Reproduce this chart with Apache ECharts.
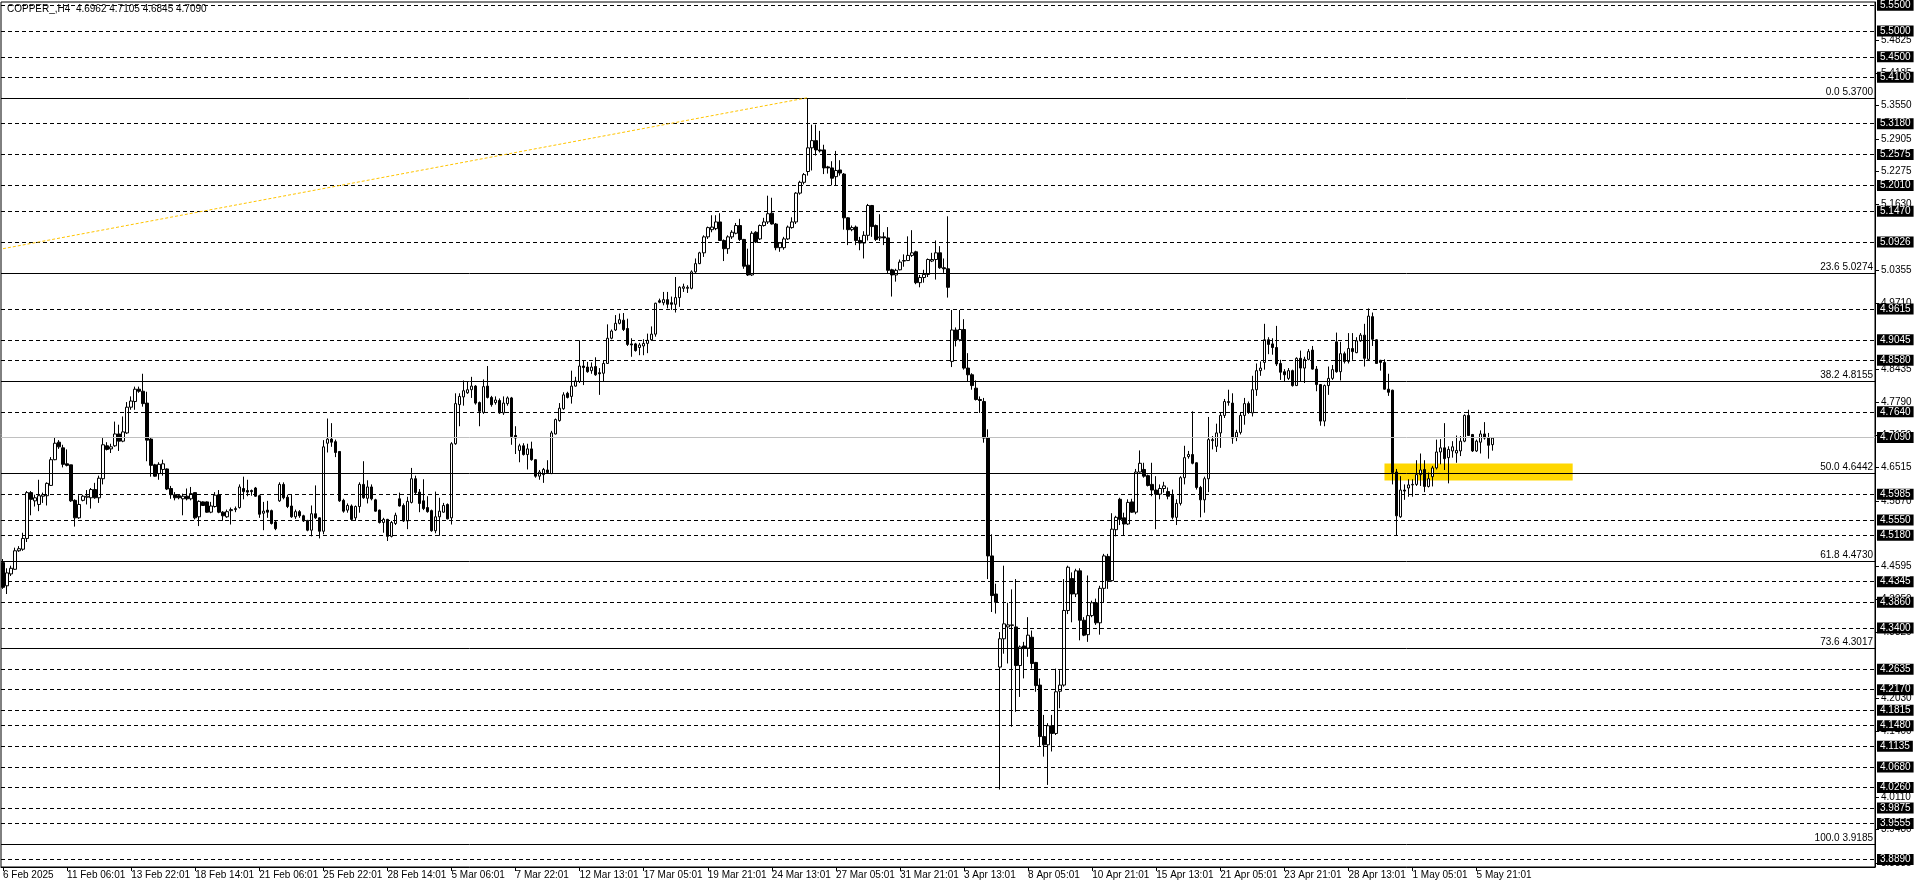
<!DOCTYPE html>
<html>
<head>
<meta charset="utf-8">
<script src="https://cdn.jsdelivr.net/npm/echarts@6/dist/echarts.min.js"></script>
<style>
html,body{margin:0;padding:0;background:#fff;}
#c{width:1916px;height:888px;}
</style>
</head>
<body>
<div id="c"></div>
<script>
// ---------- DATA ----------
const title = "COPPER_,H4  4.6962 4.7105 4.6845 4.7090";
const barsPerLabel = 16;
const totalSlots = 468;
const tickLabels = ["6 Feb 2025","11 Feb 06:01","13 Feb 22:01","18 Feb 14:01","21 Feb 06:01","25 Feb 22:01","28 Feb 14:01","5 Mar 06:01","7 Mar 22:01","12 Mar 13:01","17 Mar 05:01","19 Mar 21:01","24 Mar 13:01","27 Mar 05:01","31 Mar 21:01","3 Apr 13:01","8 Apr 05:01","10 Apr 21:01","15 Apr 13:01","21 Apr 05:01","23 Apr 21:01","28 Apr 13:01","1 May 05:01","5 May 21:01"];
// [open, high, low, close]
const candles = [
[4.467,4.474,4.416,4.419],[4.422,4.456,4.406,4.447],[4.445,4.461,4.441,4.456],[4.454,4.496,4.453,4.490],[4.490,4.499,4.488,4.494],
[4.493,4.525,4.490,4.514],[4.514,4.606,4.507,4.603],[4.603,4.606,4.559,4.590],[4.587,4.599,4.576,4.593],[4.580,4.628,4.567,4.597],
[4.596,4.603,4.583,4.599],[4.597,4.623,4.578,4.621],[4.617,4.672,4.616,4.667],[4.667,4.711,4.666,4.699],[4.701,4.705,4.688,4.692],
[4.690,4.696,4.652,4.658],[4.659,4.687,4.654,4.656],[4.657,4.657,4.585,4.587],[4.588,4.590,4.537,4.554],[4.554,4.598,4.552,4.580],
[4.588,4.599,4.586,4.596],[4.594,4.608,4.580,4.596],[4.593,4.612,4.572,4.609],[4.609,4.622,4.591,4.593],[4.593,4.636,4.583,4.631],
[4.630,4.709,4.619,4.696],[4.694,4.701,4.685,4.687],[4.688,4.698,4.680,4.692],[4.694,4.741,4.692,4.717],[4.717,4.735,4.684,4.703],
[4.703,4.751,4.701,4.721],[4.719,4.779,4.717,4.769],[4.769,4.790,4.764,4.781],[4.780,4.809,4.764,4.804],[4.804,4.809,4.797,4.800],
[4.800,4.834,4.770,4.776],[4.777,4.799,4.664,4.705],[4.707,4.709,4.634,4.656],[4.657,4.659,4.634,4.635],[4.640,4.662,4.628,4.658],
[4.648,4.667,4.636,4.659],[4.649,4.650,4.608,4.610],[4.611,4.616,4.591,4.599],[4.599,4.604,4.588,4.593],[4.597,4.599,4.590,4.593],
[4.591,4.601,4.559,4.596],[4.596,4.611,4.588,4.591],[4.591,4.614,4.588,4.601],[4.603,4.603,4.551,4.554],[4.556,4.588,4.538,4.586],
[4.585,4.586,4.577,4.578],[4.585,4.586,4.564,4.565],[4.565,4.585,4.563,4.577],[4.576,4.604,4.574,4.598],[4.599,4.608,4.563,4.565],
[4.565,4.567,4.548,4.558],[4.556,4.570,4.554,4.566],[4.568,4.574,4.541,4.570],[4.570,4.576,4.565,4.572],[4.574,4.619,4.572,4.614],
[4.611,4.634,4.590,4.605],[4.607,4.628,4.596,4.604],[4.607,4.609,4.597,4.605],[4.612,4.614,4.595,4.596],[4.597,4.599,4.554,4.561],
[4.563,4.585,4.530,4.567],[4.569,4.587,4.554,4.565],[4.568,4.570,4.541,4.543],[4.546,4.548,4.530,4.533],[4.587,4.623,4.585,4.619],
[4.619,4.623,4.590,4.593],[4.594,4.599,4.573,4.576],[4.577,4.599,4.554,4.556],[4.556,4.570,4.552,4.566],[4.566,4.569,4.554,4.558],
[4.558,4.560,4.546,4.548],[4.549,4.550,4.528,4.530],[4.530,4.578,4.518,4.562],[4.562,4.617,4.552,4.554],[4.554,4.555,4.514,4.528],
[4.528,4.705,4.522,4.692],[4.699,4.747,4.681,4.707],[4.707,4.738,4.692,4.701],[4.702,4.706,4.672,4.681],[4.683,4.683,4.585,4.587],
[4.588,4.591,4.564,4.567],[4.569,4.582,4.564,4.578],[4.577,4.580,4.550,4.551],[4.554,4.578,4.548,4.576],[4.576,4.623,4.564,4.619],
[4.619,4.664,4.591,4.593],[4.592,4.627,4.582,4.614],[4.614,4.619,4.588,4.591],[4.589,4.591,4.566,4.567],[4.569,4.570,4.543,4.545],
[4.545,4.554,4.525,4.551],[4.551,4.552,4.509,4.518],[4.518,4.548,4.516,4.545],[4.543,4.564,4.540,4.559],[4.591,4.603,4.576,4.577],
[4.578,4.582,4.546,4.548],[4.548,4.595,4.532,4.586],[4.584,4.651,4.582,4.630],[4.630,4.636,4.600,4.603],[4.604,4.610,4.565,4.582],
[4.587,4.629,4.569,4.572],[4.574,4.596,4.564,4.566],[4.568,4.570,4.527,4.529],[4.529,4.605,4.524,4.556],[4.556,4.593,4.519,4.567],
[4.565,4.583,4.564,4.578],[4.580,4.582,4.551,4.552],[4.554,4.701,4.541,4.698],[4.698,4.796,4.696,4.776],[4.774,4.796,4.732,4.790],
[4.789,4.821,4.772,4.801],[4.797,4.819,4.795,4.803],[4.803,4.828,4.787,4.810],[4.810,4.812,4.774,4.777],[4.778,4.780,4.732,4.761],
[4.759,4.823,4.756,4.809],[4.810,4.849,4.786,4.788],[4.788,4.791,4.770,4.774],[4.778,4.790,4.774,4.783],[4.782,4.786,4.756,4.758],
[4.758,4.790,4.754,4.777],[4.776,4.790,4.772,4.787],[4.787,4.789,4.696,4.712],[4.714,4.732,4.678,4.709],[4.685,4.698,4.662,4.694],
[4.694,4.699,4.675,4.677],[4.677,4.698,4.648,4.688],[4.688,4.702,4.665,4.667],[4.667,4.668,4.632,4.635],[4.635,4.647,4.628,4.643],
[4.638,4.651,4.622,4.648],[4.647,4.666,4.640,4.642],[4.640,4.723,4.639,4.719],[4.717,4.747,4.716,4.745],[4.743,4.777,4.741,4.767],
[4.766,4.798,4.764,4.793],[4.796,4.799,4.786,4.788],[4.790,4.840,4.776,4.810],[4.810,4.828,4.809,4.820],[4.819,4.899,4.816,4.849],
[4.849,4.859,4.812,4.846],[4.847,4.857,4.836,4.838],[4.840,4.856,4.834,4.847],[4.848,4.866,4.830,4.832],[4.836,4.845,4.793,4.834],
[4.835,4.859,4.819,4.854],[4.854,4.930,4.853,4.903],[4.903,4.920,4.901,4.917],[4.919,4.948,4.917,4.932],[4.932,4.951,4.930,4.939],
[4.938,4.952,4.917,4.920],[4.922,4.941,4.888,4.891],[4.892,4.903,4.867,4.890],[4.892,4.894,4.877,4.879],[4.885,4.894,4.870,4.890],
[4.888,4.901,4.870,4.893],[4.893,4.912,4.874,4.899],[4.900,4.926,4.898,4.911],[4.911,4.972,4.906,4.971],[4.976,4.980,4.971,4.973],
[4.972,4.993,4.967,4.978],[4.978,4.993,4.961,4.969],[4.972,4.984,4.958,4.969],[4.969,5.022,4.953,4.982],[4.982,5.004,4.964,5.002],
[5.000,5.009,4.993,5.003],[5.000,5.006,4.991,5.002],[5.000,5.035,4.998,5.032],[5.032,5.058,5.030,5.048],[5.048,5.071,5.047,5.069],
[5.069,5.103,5.061,5.100],[5.100,5.120,5.096,5.118],[5.114,5.142,5.109,5.119],[5.116,5.142,5.113,5.129],[5.129,5.146,5.092,5.093],
[5.093,5.095,5.053,5.077],[5.077,5.103,5.067,5.100],[5.100,5.113,5.096,5.109],[5.107,5.127,5.105,5.122],[5.122,5.135,5.092,5.095],
[5.095,5.096,5.038,5.043],[5.045,5.077,5.024,5.026],[5.026,5.111,5.024,5.107],[5.109,5.111,5.088,5.090],[5.096,5.124,5.094,5.122],
[5.122,5.137,5.120,5.129],[5.129,5.180,5.125,5.145],[5.146,5.176,5.124,5.125],[5.125,5.127,5.074,5.079],[5.079,5.090,5.071,5.088],
[5.079,5.100,5.075,5.096],[5.096,5.122,5.094,5.119],[5.118,5.138,5.116,5.129],[5.129,5.187,5.125,5.185],[5.185,5.209,5.182,5.206],
[5.206,5.224,5.202,5.221],[5.227,5.369,5.219,5.273],[5.273,5.318,5.229,5.287],[5.287,5.318,5.258,5.269],[5.269,5.306,5.264,5.267],
[5.269,5.279,5.222,5.234],[5.236,5.238,5.223,5.234],[5.234,5.247,5.200,5.214],[5.217,5.267,5.200,5.229],[5.230,5.249,5.219,5.224],
[5.222,5.224,5.114,5.137],[5.137,5.138,5.084,5.114],[5.114,5.122,5.111,5.118],[5.119,5.122,5.084,5.093],[5.093,5.100,5.074,5.088],
[5.088,5.111,5.058,5.103],[5.103,5.164,5.093,5.161],[5.161,5.162,5.100,5.120],[5.122,5.124,5.092,5.095],[5.098,5.144,5.092,5.100],
[5.100,5.109,5.084,5.098],[5.098,5.119,5.029,5.035],[5.036,5.038,4.984,5.026],[5.026,5.038,5.013,5.035],[5.036,5.056,5.035,5.051],
[5.053,5.066,5.042,5.054],[5.054,5.101,5.053,5.064],[5.064,5.113,5.061,5.069],[5.071,5.073,5.008,5.011],[5.011,5.026,5.002,5.021],
[5.021,5.036,5.011,5.027],[5.027,5.058,5.022,5.056],[5.053,5.069,5.051,5.056],[5.056,5.093,5.017,5.069],[5.069,5.082,5.038,5.040],
[5.040,5.058,5.030,5.038],[5.038,5.140,4.982,5.002],[4.858,4.958,4.847,4.919],[4.919,4.924,4.887,4.900],[4.900,4.958,4.897,4.920],
[4.920,4.940,4.842,4.845],[4.845,4.874,4.819,4.832],[4.832,4.835,4.803,4.811],[4.806,4.821,4.782,4.784],[4.784,4.790,4.758,4.782],
[4.780,4.787,4.700,4.709],[4.709,4.726,4.435,4.480],[4.480,4.522,4.371,4.403],[4.406,4.426,4.368,4.390],[4.264,4.332,4.026,4.319],
[4.319,4.461,4.290,4.348],[4.342,4.389,4.271,4.346],[4.345,4.415,4.148,4.346],[4.342,4.435,4.177,4.267],[4.267,4.306,4.206,4.303],
[4.305,4.313,4.242,4.300],[4.301,4.361,4.284,4.326],[4.322,4.335,4.261,4.271],[4.273,4.274,4.216,4.228],[4.229,4.242,4.110,4.129],
[4.129,4.171,4.090,4.113],[4.113,4.155,4.035,4.150],[4.150,4.171,4.100,4.135],[4.135,4.261,4.132,4.216],[4.217,4.258,4.184,4.229],
[4.229,4.435,4.226,4.374],[4.374,4.461,4.367,4.458],[4.436,4.448,4.351,4.406],[4.406,4.455,4.400,4.451],[4.451,4.456,4.316,4.355],
[4.355,4.361,4.324,4.326],[4.327,4.442,4.313,4.364],[4.364,4.393,4.361,4.389],[4.389,4.397,4.346,4.350],[4.350,4.422,4.327,4.417],
[4.417,4.484,4.390,4.480],[4.479,4.484,4.416,4.432],[4.432,4.563,4.430,4.532],[4.531,4.558,4.518,4.555],[4.590,4.593,4.540,4.551],
[4.554,4.564,4.520,4.542],[4.542,4.590,4.540,4.584],[4.585,4.591,4.564,4.565],[4.565,4.649,4.561,4.643],[4.643,4.685,4.642,4.660],
[4.648,4.661,4.632,4.635],[4.636,4.638,4.615,4.617],[4.619,4.661,4.596,4.608],[4.608,4.635,4.532,4.600],[4.600,4.619,4.590,4.611],
[4.611,4.624,4.603,4.616],[4.605,4.613,4.590,4.596],[4.598,4.609,4.551,4.555],[4.555,4.590,4.540,4.582],[4.582,4.635,4.578,4.632],
[4.632,4.694,4.619,4.671],[4.673,4.684,4.669,4.677],[4.677,4.761,4.658,4.660],[4.661,4.662,4.609,4.613],[4.613,4.616,4.555,4.589],
[4.589,4.634,4.564,4.630],[4.630,4.750,4.604,4.706],[4.704,4.713,4.687,4.706],[4.693,4.737,4.682,4.719],[4.719,4.759,4.690,4.753],
[4.753,4.785,4.748,4.780],[4.778,4.803,4.772,4.780],[4.777,4.796,4.698,4.709],[4.711,4.725,4.703,4.720],[4.720,4.759,4.716,4.753],
[4.753,4.787,4.735,4.776],[4.776,4.780,4.756,4.759],[4.758,4.830,4.751,4.803],[4.803,4.854,4.791,4.840],[4.840,4.858,4.830,4.845],
[4.856,4.931,4.842,4.900],[4.900,4.905,4.872,4.891],[4.892,4.903,4.871,4.885],[4.885,4.927,4.849,4.853],[4.854,4.861,4.822,4.837],
[4.838,4.843,4.819,4.832],[4.825,4.845,4.822,4.840],[4.840,4.842,4.809,4.811],[4.811,4.866,4.811,4.864],[4.864,4.879,4.819,4.845],
[4.845,4.867,4.816,4.862],[4.862,4.882,4.860,4.877],[4.880,4.888,4.842,4.843],[4.843,4.849,4.800,4.813],[4.813,4.814,4.733,4.742],
[4.742,4.813,4.732,4.811],[4.811,4.848,4.793,4.825],[4.825,4.851,4.822,4.842],[4.896,4.914,4.836,4.838],[4.838,4.896,4.821,4.873],
[4.873,4.877,4.854,4.858],[4.858,4.913,4.854,4.883],[4.883,4.913,4.861,4.877],[4.875,4.905,4.874,4.898],[4.898,4.913,4.896,4.909],
[4.909,4.931,4.848,4.864],[4.862,4.961,4.861,4.946],[4.945,4.953,4.888,4.901],[4.900,4.901,4.853,4.854],[4.860,4.861,4.840,4.856],
[4.856,4.862,4.803,4.804],[4.804,4.834,4.791,4.798],[4.802,4.803,4.619,4.642],[4.643,4.649,4.520,4.558],[4.556,4.635,4.554,4.608],
[4.608,4.619,4.589,4.606],[4.612,4.629,4.595,4.618],[4.618,4.629,4.595,4.619],[4.619,4.666,4.616,4.638],[4.638,4.679,4.616,4.647],
[4.648,4.666,4.604,4.615],[4.615,4.642,4.613,4.630],[4.634,4.655,4.615,4.651],[4.651,4.706,4.648,4.682],[4.682,4.707,4.658,4.690],
[4.690,4.738,4.647,4.669],[4.671,4.693,4.621,4.687],[4.684,4.703,4.671,4.692],[4.680,4.714,4.661,4.685],[4.684,4.713,4.674,4.703],
[4.703,4.755,4.701,4.753],[4.753,4.764,4.713,4.714],[4.716,4.717,4.682,4.684],[4.684,4.706,4.682,4.703],[4.701,4.724,4.679,4.717],
[4.717,4.740,4.706,4.709],[4.709,4.719,4.669,4.695],[4.6962,4.7105,4.6845,4.7090]
];
const levels = [5.5500,5.5000,5.4500,5.4100,5.3180,5.2575,5.2010,5.1470,5.0926,4.9615,4.9045,4.8580,4.7640,4.5985,4.5550,4.5180,4.4345,4.3860,4.3400,4.2635,4.2170,4.1815,4.1480,4.1135,4.0680,4.0260,3.9875,3.9555,3.8890];
const currentPrice = 4.7090;
const fibRatios = ["0.0","23.6","38.2","50.0","61.8","73.6","100.0"];
const fibPrices = [5.3700,5.0274,4.8155,4.6442,4.4730,4.3017,3.9185];
const scaleValues = [5.4825,5.4185,5.3550,5.2905,5.2275,5.1630,5.0355,4.9710,4.8435,4.7790,4.7150,4.6515,4.5870,4.4595,4.3950,4.3320,4.2030,4.1400,4.0110,3.9480,3.8835];
const trendStart = [0, 5.077];
const trendEnd = [201, 5.3705];
const zoneBars = [345, 392];
const zonePrices = [4.6597, 4.6268];
const priceMin = 3.8755, priceMax = 5.5564;

// ---------- CHART ----------
const FONT = "'Liberation Sans', Arial, sans-serif";
const cats = [];
for (let i = 0; i < totalSlots; i++) cats.push(String(i));
const isTick = (idx) => idx % barsPerLabel === 0 && (idx / barsPerLabel) < tickLabels.length;

const boxLabel = (v) => ({show: true, position: 'end', distance: 2, formatter: v.toFixed(4),
  backgroundColor: '#000', color: '#fff', fontSize: 10, fontFamily: FONT,
  padding: [1, 3, 0, 3], lineHeight: 10});

const ml = [];
levels.forEach(v => ml.push({
  yAxis: v,
  lineStyle: {color: '#000', type: [4, 3], width: 1},
  label: boxLabel(v)
}));
ml.push({
  yAxis: currentPrice,
  lineStyle: {color: '#c0c0c0', type: 'solid', width: 1},
  label: boxLabel(currentPrice)
});
fibPrices.forEach((v, k) => ml.push({
  yAxis: v,
  lineStyle: {color: '#000', type: 'solid', width: 1},
  label: {show: true, position: 'insideEndTop', distance: [2, 1], formatter: fibRatios[k] + ' ' + v.toFixed(4),
    color: '#000', fontSize: 10, fontFamily: FONT}
}));
ml.push([
  {coord: [trendStart[0], trendStart[1]], lineStyle: {color: '#FFC400', type: [3, 2], width: 1}, label: {show: false}},
  {coord: [trendEnd[0], trendEnd[1]]}
]);

const chart = echarts.init(document.getElementById('c'), null, {renderer: 'canvas'});
chart.setOption({
  animation: false,
  backgroundColor: '#fff',
  graphic: [{type: 'text', left: 7, top: 4, z: 10,
    style: {text: title, font: '10px ' + FONT, fill: '#000'}}],
  grid: {left: 1, right: 41, top: 2, bottom: 21, show: true, borderColor: '#000', borderWidth: 1, backgroundColor: '#fff'},
  xAxis: {
    type: 'category', data: cats, boundaryGap: true,
    axisLine: {show: true, lineStyle: {color: '#000', width: 1}},
    axisTick: {show: true, alignWithLabel: true, length: 4, interval: (i) => isTick(i), lineStyle: {color: '#000'}},
    axisLabel: {show: true, interval: (i) => isTick(i), align: 'left', margin: 3,
      formatter: (v, i) => tickLabels[Math.round(i / barsPerLabel)] || '',
      color: '#000', fontSize: 10, fontFamily: FONT},
    splitLine: {show: false}
  },
  yAxis: {
    type: 'value', position: 'right', min: priceMin, max: priceMax,
    axisLine: {show: true, lineStyle: {color: '#000', width: 1}},
    axisTick: {show: true, customValues: scaleValues, length: 4, lineStyle: {color: '#000'}},
    axisLabel: {show: true, customValues: scaleValues, margin: 6, formatter: (v) => v.toFixed(4),
      color: '#000', fontSize: 10, fontFamily: FONT},
    splitLine: {show: false}
  },
  series: [
    {
      type: 'line', data: [], z: 1, silent: true, symbol: 'none',
      markLine: {silent: true, symbol: ['none', 'none'], animation: false, data: ml},
      markArea: {silent: true, animation: false, itemStyle: {color: '#FFD700', opacity: 1},
        data: [[{coord: [zoneBars[0], zonePrices[0]]}, {coord: [zoneBars[1], zonePrices[1]]}]]}
    },
    {
      type: 'candlestick', z: 3, barWidth: 3,
      data: candles.map(c => [c[0], c[3], c[2], c[1]]),
      itemStyle: {color: '#fff', color0: '#000', borderColor: '#000', borderColor0: '#000', borderWidth: 1}
    }
  ]
});
</script>
</body>
</html>
